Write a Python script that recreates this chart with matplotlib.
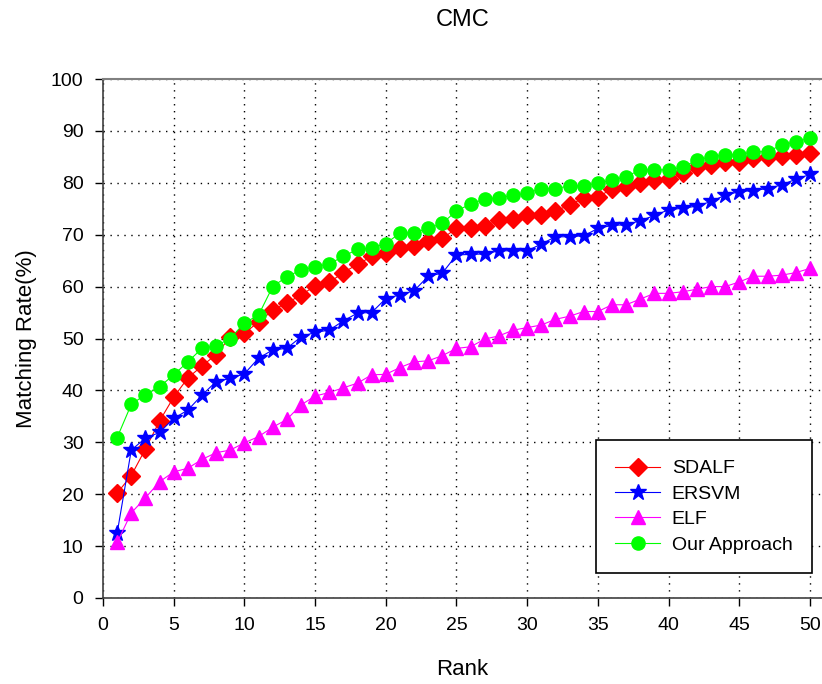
import matplotlib
matplotlib.use("Agg")
import matplotlib.pyplot as plt
import numpy as np

plt.rcParams['font.family'] = ['Liberation Sans', 'DejaVu Sans']

# CMC values (rank 1..50)
ranks = list(range(1, 51))

sdalf = [20.2, 23.6, 28.7, 34.1, 38.7, 42.4, 44.7, 46.9, 50.3, 51.0,
         53.2, 55.4, 56.9, 58.3, 60.2, 60.8, 62.7, 64.3, 65.8, 66.5,
         67.4, 67.8, 68.7, 69.3, 71.2, 71.2, 71.7, 72.8, 73.0, 73.7,
         73.8, 74.6, 75.7, 77.1, 77.3, 78.8, 79.1, 80.0, 80.5, 80.7,
         81.8, 83.1, 83.4, 84.1, 84.1, 84.7, 85.0, 85.2, 85.4, 85.7]

ersvm = [12.5, 28.5, 30.8, 31.9, 34.6, 36.2, 39.1, 41.7, 42.3, 43.2,
         46.2, 47.8, 48.1, 50.3, 51.2, 51.6, 53.4, 54.9, 55.0, 57.7,
         58.4, 59.2, 62.0, 62.6, 66.1, 66.2, 66.3, 66.9, 66.9, 66.9,
         68.2, 69.6, 69.6, 69.8, 71.2, 71.8, 71.9, 72.7, 73.7, 74.8,
         75.1, 75.5, 76.4, 77.6, 78.3, 78.5, 78.9, 79.6, 80.7, 81.6]

elf = [10.7, 16.4, 19.3, 22.4, 24.3, 25.0, 26.7, 28.0, 28.5, 29.9,
       31.1, 32.9, 34.4, 37.2, 38.9, 39.6, 40.5, 41.4, 43.0, 43.1,
       44.4, 45.5, 45.7, 46.7, 48.1, 48.4, 49.9, 50.5, 51.6, 52.1,
       52.6, 53.7, 54.3, 55.2, 55.2, 56.5, 56.5, 57.6, 58.7, 58.7,
       59.0, 59.5, 60.0, 60.0, 60.9, 62.0, 62.0, 62.2, 62.7, 63.5]

ours = [30.9, 37.3, 39.2, 40.7, 43.0, 45.5, 48.1, 48.6, 50.0, 53.0,
        54.5, 60.0, 61.9, 63.2, 63.8, 64.4, 65.8, 67.2, 67.4, 68.3,
        70.3, 70.4, 71.2, 72.2, 74.6, 75.9, 76.9, 77.1, 77.6, 78.0,
        78.9, 78.9, 79.4, 79.4, 80.0, 80.5, 81.2, 82.5, 82.5, 82.5,
        83.0, 84.4, 85.0, 85.4, 85.4, 86.0, 86.0, 87.3, 87.9, 88.6]

fig = plt.figure(figsize=(8.22, 6.84), dpi=100)
ax = fig.add_axes([103 / 822, 86 / 684, 719 / 822, 519 / 684])

ax.plot(ranks, sdalf, color='#ff0000', marker='D', markersize=9, lw=0.8,
        label='SDALF', zorder=3)
ax.plot(ranks, ersvm, color='#0000ff', marker='*', markersize=12, lw=0.8,
        label='ERSVM', zorder=3)
ax.plot(ranks, elf, color='#ff00ff', marker='^', markersize=10, lw=0.8,
        label='ELF', zorder=3)
ax.plot(ranks, ours, color='#00ff00', marker='o', markersize=9.5, lw=0.8,
        label='Our Approach', zorder=4)

ax.set_xlim(0, 50.85)
ax.set_ylim(0, 100)
ax.set_xticks(range(0, 51, 5))
ax.set_yticks(range(0, 101, 10))
ax.grid(True, color='black', linestyle=(0, (1, 4)), linewidth=1)

for s in ['left', 'bottom']:
    ax.spines[s].set_color('#404040')
    ax.spines[s].set_linewidth(1.2)
ax.spines['top'].set_color('#808080')
ax.spines['top'].set_linewidth(1.5)
ax.spines['right'].set_visible(False)
ax.tick_params(direction='out', length=6, width=1, labelsize=14, pad=8)

ax.set_title('CMC', fontsize=17, pad=38)
ax.set_xlabel('Rank', fontsize=16, labelpad=18)
ax.set_ylabel('Matching Rate(%)', fontsize=16, labelpad=10)

leg = ax.legend(loc='lower right', bbox_to_anchor=(0.986, 0.048), fontsize=14,
                fancybox=False, edgecolor='black', framealpha=1,
                handlelength=2.3, handletextpad=0.6, borderpad=1.0,
                labelspacing=0.4, borderaxespad=0)
leg.get_frame().set_linewidth(1.2)

fig.savefig('out.png', dpi=100)
